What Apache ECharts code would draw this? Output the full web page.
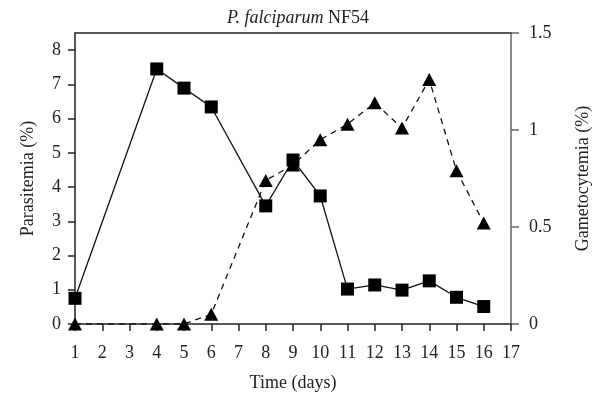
<!DOCTYPE html>
<html>
<head>
<meta charset="utf-8">
<script src="https://cdn.jsdelivr.net/npm/echarts@6/dist/echarts.min.js"></script>
<style>
  html, body { margin: 0; padding: 0; background: #fff; }
  #chart { width: 596px; height: 400px; }
</style>
</head>
<body>
<div id="chart"></div>
<script>
// days sampled
var days = [1, 4, 5, 6, 8, 9, 10, 11, 12, 13, 14, 15, 16];
// parasitemia (%) - squares, left axis
var parasitemia = [0.75, 7.45, 6.89, 6.34, 3.45, 4.79, 3.74, 1.02, 1.14, 0.99, 1.26, 0.78, 0.51];
// gametocytemia (%) - triangles, right axis
var gametocytemia = [0, 0, 0, 0.05, 0.74, 0.82, 0.95, 1.03, 1.14, 1.01, 1.26, 0.79, 0.52];

var font = 'Liberation Serif';
var fs = 18;

function pairs(xs, ys) {
  var out = [];
  for (var i = 0; i < xs.length; i++) out.push([xs[i], ys[i]]);
  return out;
}

var chart = echarts.init(document.getElementById('chart'));

chart.setOption({
  animation: false,
  textStyle: { fontFamily: font, color: '#222' },
  title: {
    text: '{i|P. falciparum} {n|NF54}',
    left: 293,
    textAlign: 'center',
    top: 4,
    textStyle: {
      fontWeight: 'normal',
      rich: {
        i: { fontFamily: font, fontStyle: 'italic', fontWeight: 'normal', fontSize: fs, color: '#222' },
        n: { fontFamily: font, fontWeight: 'normal', fontSize: fs, color: '#222' }
      }
    }
  },
  grid: { left: 75, right: 85, top: 33, bottom: 76, containLabel: false, outerBoundsMode: 'none' },
  xAxis: [{
    type: 'value',
    min: 1,
    max: 17,
    interval: 1,
    name: 'Time (days)',
    nameLocation: 'middle',
    nameGap: 50,
    nameTextStyle: { fontSize: fs, fontFamily: font, color: '#222' },
    axisLine: { onZero: false, lineStyle: { color: '#222', width: 1.5 } },
    axisTick: { inside: false, length: 7, lineStyle: { color: '#222', width: 1.5 } },
    axisLabel: { fontSize: fs, fontFamily: font, color: '#222', margin: 20 },
    splitLine: { show: false }
  }, {
    type: 'value',
    position: 'top',
    min: 1,
    max: 17,
    axisLine: { show: true, onZero: false, lineStyle: { color: '#222', width: 1.5 } },
    axisTick: { show: false },
    axisLabel: { show: false },
    splitLine: { show: false }
  }],
  yAxis: [{
    type: 'value',
    min: 0,
    max: 8.5,
    interval: 1,
    name: 'Parasitemia (%)',
    nameLocation: 'middle',
    nameGap: 38,
    nameTextStyle: { fontSize: fs, fontFamily: font, color: '#222' },
    axisLine: { show: true, onZero: false, lineStyle: { color: '#222', width: 1.5 } },
    axisTick: { show: true, length: 7, lineStyle: { color: '#222', width: 1.5 } },
    axisLabel: { fontSize: fs, fontFamily: font, color: '#222', margin: 14, showMaxLabel: false },
    splitLine: { show: false }
  }, {
    type: 'value',
    position: 'right',
    min: 0,
    max: 1.5,
    interval: 0.5,
    name: 'Gametocytemia (%)',
    nameLocation: 'middle',
    nameGap: 63,
    nameTextStyle: { fontSize: fs, fontFamily: font, color: '#222' },
    axisLine: { show: true, onZero: false, lineStyle: { color: '#666', width: 1.5 } },
    axisTick: { show: true, length: 8, lineStyle: { color: '#666', width: 1.5 } },
    axisLabel: { fontSize: fs, fontFamily: font, color: '#222', margin: 18 },
    splitLine: { show: false }
  }],
  series: [{
    name: 'Parasitemia',
    type: 'line',
    yAxisIndex: 0,
    data: pairs(days, parasitemia),
    symbol: 'rect',
    symbolSize: 13,
    itemStyle: { color: '#000' },
    lineStyle: { color: '#111', width: 1.3, type: 'solid' },
    z: 3
  }, {
    name: 'Gametocytemia',
    type: 'line',
    yAxisIndex: 1,
    data: pairs(days, gametocytemia),
    symbol: 'triangle',
    symbolSize: [14, 13],
    itemStyle: { color: '#000' },
    lineStyle: { color: '#111', width: 1.3, type: [6, 5] },
    z: 4
  }]
});
</script>
</body>
</html>
